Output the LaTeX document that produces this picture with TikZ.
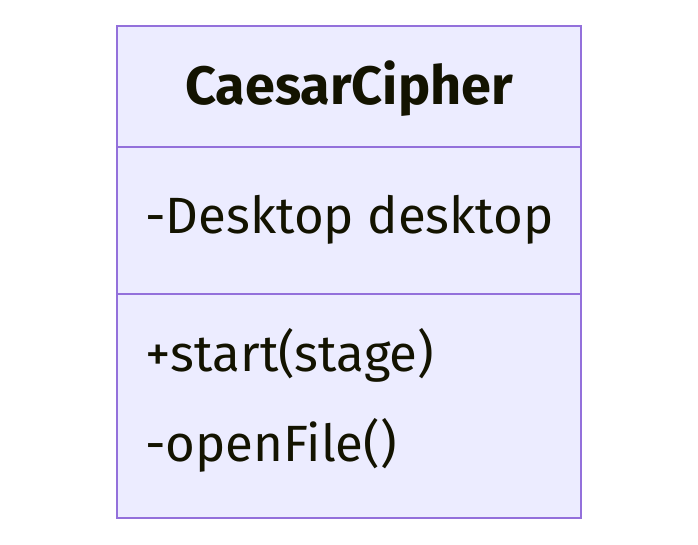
\documentclass[tikz,border=0pt]{standalone}
\usepackage{fontspec}
\setmainfont{Fira Sans}
\usetikzlibrary{positioning}
\definecolor{classfill}{HTML}{ECECFF}
\definecolor{classline}{HTML}{9370DB}
\definecolor{classtext}{HTML}{131300}
\begin{document}
\begin{tikzpicture}[
            x=1pt, y=-1pt,
            part/.style={draw=classline, fill=classfill, line width=2.8pt,
                minimum width=464pt, inner sep=0pt, outer sep=0pt, anchor=north west},
            member/.style={text=classtext, font=\fontsize{51}{57}\selectfont,
                anchor=west, inner sep=0pt}
        ]
            \useasboundingbox (0,0) rectangle (698,545);
            \node[part, minimum height=121pt] (title) at (117,26) {};
            \node[part, minimum height=147pt, below=0pt of title.south west, anchor=north west] (attrs) {};
            \node[part, minimum height=224pt, below=0pt of attrs.south west, anchor=north west] (methods) {};
            \node[text=classtext, font=\bfseries\fontsize{54}{60}\selectfont] (name) at ([yshift=-2pt]title.center) {CaesarCipher};
            \node[member] (desktop) at (145,220) {-Desktop desktop};
            \node[member] (start) at (145,355) {+start(stage)};
            \node[member] (open) at (145,445) {-openFile()};
        \end{tikzpicture}
\end{document}
